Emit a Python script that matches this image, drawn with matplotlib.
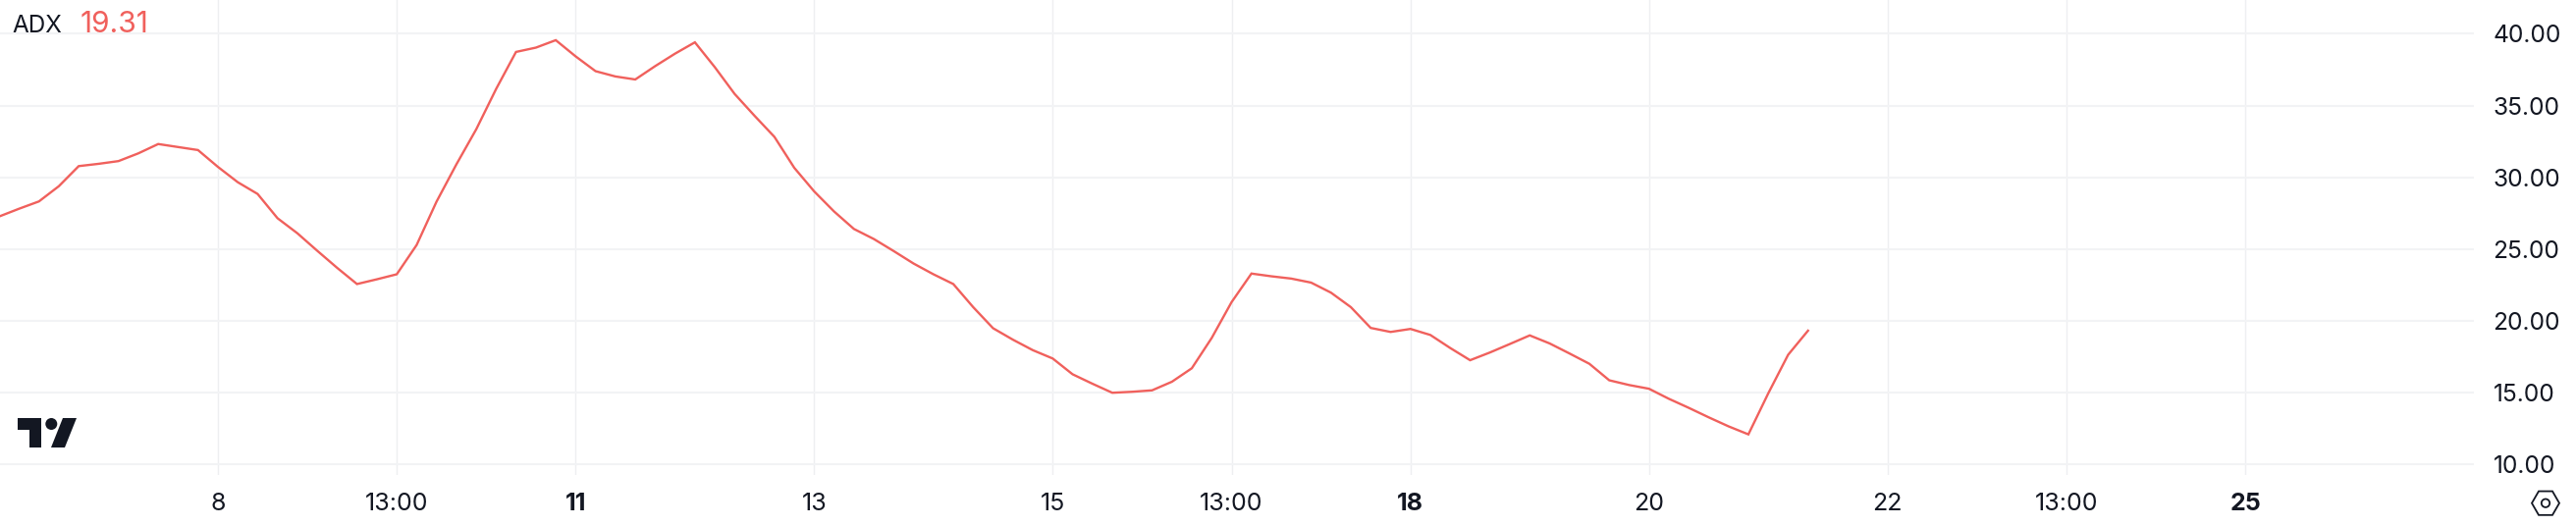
import matplotlib
matplotlib.use("Agg")
import matplotlib.pyplot as plt
from matplotlib.patches import Polygon, Circle, RegularPolygon

plt.rcParams["font.family"] = ["Inter", "DejaVu Sans"]

# 4h bars, bar 0 sits on the "8" tick
adx = [27.27, 27.81, 28.32, 29.38, 30.78, 30.94, 31.13, 31.67, 32.32, 32.11, 31.90,
       30.73, 29.66, 28.84, 27.15, 26.10, 24.88, 23.69, 22.56, 22.89, 23.24, 25.28,
       28.30, 30.90, 33.35, 36.16, 38.74, 39.04, 39.56, 38.43, 37.40, 37.03, 36.82,
       37.75, 38.62, 39.41, 37.68, 35.81, 34.29, 32.82, 30.66, 29.02, 27.62, 26.40,
       25.70, 24.86, 23.99, 23.24, 22.56, 20.95, 19.48, 18.68, 17.95, 17.37, 16.27,
       15.61, 14.98, 15.05, 15.15, 15.75, 16.69, 18.80, 21.30, 23.29, 23.10, 22.94,
       22.66, 21.96, 20.95, 19.50, 19.22, 19.43, 19.01, 18.10, 17.25, 17.79, 18.38,
       18.98, 18.42, 17.72, 17.00, 15.85, 15.52, 15.26, 14.56, 13.93, 13.27, 12.64,
       12.08, 14.94, 17.63, 19.31]
bars = list(range(-11, 81))
tick_bars = [0, 9, 18, 30, 42, 51, 60, 72, 84, 93, 102]
tick_labels = ["8", "13:00", "11", "13", "15", "13:00", "18", "20", "22", "13:00", "25"]
bold_labels = ["11", "18", "25"]
y_ticks = [10, 15, 20, 25, 30, 35, 40]

W, H = 2624, 536
dark = "#131722"
red = "#f0605c"

fig = plt.figure(figsize=(W / 100, H / 100), dpi=100, facecolor="white")
ax = fig.add_axes([0, 52 / H, 2520 / W, 484 / H])
ax.plot(bars, adx, color=red, lw=1.7, solid_joinstyle="miter", zorder=3, clip_on=True)
ax.set_xlim(-10.96, 113.5)
ax.set_ylim(9.25, 42.36)
ax.set_xticks(tick_bars)
ax.set_xticklabels(tick_labels)
ax.set_yticks(y_ticks)
ax.set_yticklabels([f"{v:.2f}" for v in y_ticks])
ax.yaxis.tick_right()
ax.tick_params(axis="x", length=0, pad=13, labelsize=18, labelcolor=dark)
ax.tick_params(axis="y", length=0, pad=14, labelsize=17.7, labelcolor=dark)
for lab in ax.get_xticklabels():
    if lab.get_text() in bold_labels:
        lab.set_fontweight("bold")
ax.grid(axis="x", color="#eeeff1", lw=1.0)
ax.grid(axis="y", color="#f2f3f5", lw=1.5)
ax.set_axisbelow(True)
for s in ax.spines.values():
    s.set_visible(False)

# overlay in pixel coords for legend text, logo and settings icon
ov = fig.add_axes([0, 0, 1, 1])
ov.set_xlim(0, W)
ov.set_ylim(H, 0)
ov.axis("off")
ov.patch.set_alpha(0)
ov.text(12, 33, "ADX", color=dark, fontsize=17.5, va="baseline", ha="left")
ov.text(82, 33, "19.31", color=red, fontsize=21.5, va="baseline", ha="left")

ov.add_patch(Polygon([(18, 426), (42, 426), (42, 456), (30, 456), (30, 438), (18, 438)], fc=dark, ec="none"))
ov.add_patch(Circle((52.3, 432), 6, fc=dark, ec="none"))
ov.add_patch(Polygon([(64, 426), (78, 426), (66, 456), (52, 456)], fc=dark, ec="none"))

ov.add_patch(RegularPolygon((2593, 512.7), 6, radius=14, orientation=0.5236, fc="none", ec=dark, lw=1.3))
ov.add_patch(Circle((2593, 512.7), 4.2, fc="none", ec=dark, lw=1.3))

fig.savefig("out.png", dpi=100)
